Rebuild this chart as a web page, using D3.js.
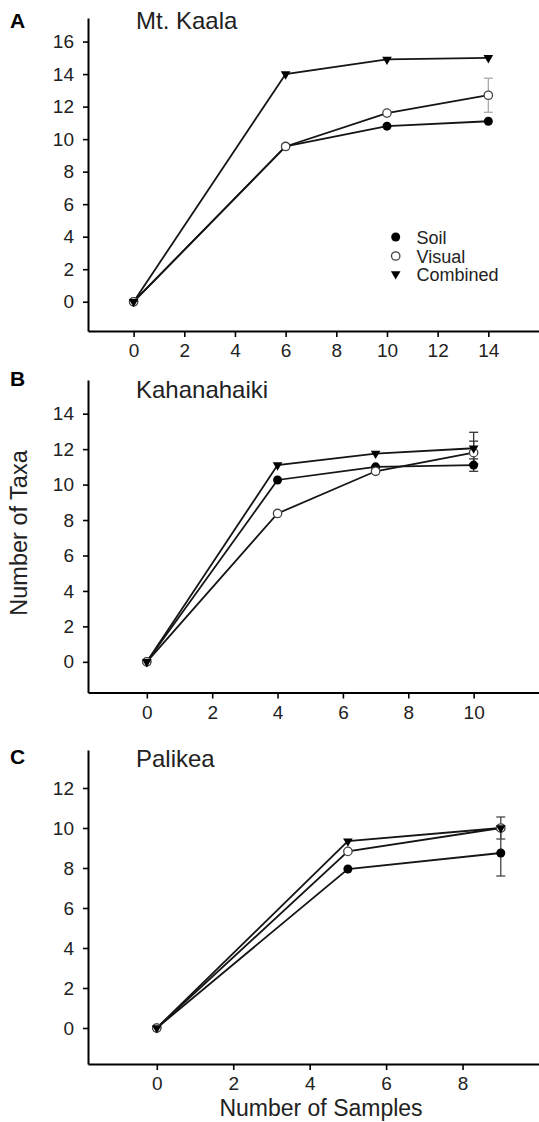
<!DOCTYPE html>
<html>
<head>
<meta charset="utf-8">
<script src="https://cdn.jsdelivr.net/npm/d3@7"></script>
<style>
  body { margin: 0; background: #fff; }
  svg { display: block; font-family: "Liberation Sans", Arial, sans-serif; }
</style>
</head>
<body>
<svg id="chart" width="539" height="1122"></svg>
<script>
// series names and panel data
const seriesNames = ["Soil", "Visual", "Combined"];

const kaalaSamples = [0, 6, 10, 14];
const kaalaSoil = [0, 9.55, 10.8, 11.1];
const kaalaVisual = [0, 9.55, 11.6, 12.7];
const kaalaCombined = [0, 14.0, 14.9, 15.0];
const kaalaVisualErr = [null, null, null, 1.05];

const kahaSamples = [0, 4, 7, 10];
const kahaSoil = [0, 10.26, 11.0, 11.1];
const kahaVisual = [0, 8.37, 10.75, 11.8];
const kahaCombined = [0, 11.1, 11.75, 12.05];
const kahaSoilErr = [null, null, null, 0.35];
const kahaVisualErr = [null, null, null, 0.65];
const kahaCombinedErr = [null, null, null, 0.9];

const palSamples = [0, 5, 9];
const palSoil = [0, 7.95, 8.75];
const palVisual = [0, 8.83, 10.0];
const palCombined = [0, 9.34, 10.0];
const palSoilErr = [null, null, 1.15];
const palVisualErr = [null, null, 0.55];

const kaalaXTicks = [0, 2, 4, 6, 8, 10, 12, 14];
const kaalaYTicks = [0, 2, 4, 6, 8, 10, 12, 14, 16];
const kahaXTicks = [0, 2, 4, 6, 8, 10];
const kahaYTicks = [0, 2, 4, 6, 8, 10, 12, 14];
const palXTicks = [0, 2, 4, 6, 8];
const palYTicks = [0, 2, 4, 6, 8, 10, 12];

let svg = d3.select("#chart");

let panels = [
    {
        letter: "A", title: "Mt. Kaala",
        x: kaalaSamples,
        series: [kaalaSoil, kaalaVisual, kaalaCombined],
        errs: [null, kaalaVisualErr, null],
        errColor: "#aaa",
        xDomain: [-1.8, 16], yDomain: [-1.8, 17.45],
        top: 18, bottom: 331,
        xTicks: kaalaXTicks, yTicks: kaalaYTicks,
        letterY: 28, titleY: 29,
        legend: true
    },
    {
        letter: "B", title: "Kahanahaiki",
        x: kahaSamples,
        series: [kahaSoil, kahaVisual, kahaCombined],
        errs: [kahaSoilErr, kahaVisualErr, kahaCombinedErr],
        errColor: "#333",
        xDomain: [-1.8, 12], yDomain: [-1.73, 15.9],
        top: 380, bottom: 692.5,
        xTicks: kahaXTicks, yTicks: kahaYTicks,
        letterY: 385.5, titleY: 397.5
    },
    {
        letter: "C", title: "Palikea",
        x: palSamples,
        series: [palSoil, palVisual, palCombined],
        errs: [palSoilErr, palVisualErr, null],
        errColor: "#444",
        xDomain: [-1.8, 10], yDomain: [-1.8, 13.9],
        top: 750, bottom: 1064,
        xTicks: palXTicks, yTicks: palYTicks,
        letterY: 764, titleY: 767
    }
];

let left = 88, right = 539;

// markers for the three series
function drawMarker(g, kind, cx, cy) {
    if (kind == 0) {
        g.append("circle").attr("cx", cx).attr("cy", cy).attr("r", 4.5)
            .attr("fill", "#000");
    } else if (kind == 1) {
        g.append("circle").attr("cx", cx).attr("cy", cy).attr("r", 4.2)
            .attr("fill", "#fff").attr("stroke", "#444").attr("stroke-width", 1.3);
    } else {
        g.append("path")
            .attr("d", d3.symbol().type(d3.symbolTriangle).size(40))
            .attr("transform", "translate(" + cx + "," + cy + ") rotate(180)")
            .attr("fill", "#000");
    }
}

panels.forEach(function(p) {
    let g = svg.append("g");

    let x = d3.scaleLinear().domain(p.xDomain).range([left, right]);
    let y = d3.scaleLinear().domain(p.yDomain).range([p.bottom, p.top]);

    // axes
    let xAxis = g.append("g")
        .attr("transform", "translate(0," + p.bottom + ")")
        .call(d3.axisBottom(x).tickValues(p.xTicks).tickSize(6).tickSizeOuter(0).tickPadding(7));
    let yAxis = g.append("g")
        .attr("transform", "translate(" + left + ",0)")
        .call(d3.axisLeft(y).tickValues(p.yTicks).tickSize(5).tickSizeOuter(0).tickPadding(9));
    [xAxis, yAxis].forEach(function(a) {
        a.attr("font-size", 19).attr("font-family", "Liberation Sans, Arial, sans-serif");
        a.select(".domain").attr("stroke", "#000").attr("stroke-width", 2);
        a.selectAll(".tick line").attr("stroke", "#000").attr("stroke-width", 1.6);
        a.selectAll(".tick text").attr("fill", "#222");
    });

    // lines
    let line = d3.line()
        .x(function(d) { return x(d[0]); })
        .y(function(d) { return y(d[1]); });
    p.series.forEach(function(s) {
        g.append("path")
            .datum(p.x.map(function(v, i) { return [v, s[i]]; }))
            .attr("d", line)
            .attr("fill", "none")
            .attr("stroke", "#151515")
            .attr("stroke-width", 1.8);
    });

    // error bars
    p.errs.forEach(function(e, si) {
        if (!e) return;
        e.forEach(function(err, i) {
            if (err == null) return;
            let cx = x(p.x[i]), v = p.series[si][i];
            let y1 = y(v - err), y2 = y(v + err);
            g.append("line").attr("x1", cx).attr("x2", cx).attr("y1", y1).attr("y2", y2)
                .attr("stroke", p.errColor).attr("stroke-width", 1.3);
            [y1, y2].forEach(function(yy) {
                g.append("line").attr("x1", cx - 4.5).attr("x2", cx + 4.5).attr("y1", yy).attr("y2", yy)
                    .attr("stroke", p.errColor).attr("stroke-width", 1.3);
            });
        });
    });

    // markers
    p.series.forEach(function(s, si) {
        s.forEach(function(v, i) {
            drawMarker(g, si, x(p.x[i]), y(v));
        });
    });

    // panel letter and site name
    g.append("text").attr("x", 10).attr("y", p.letterY)
        .attr("font-size", 21).attr("font-weight", "bold").text(p.letter);
    g.append("text").attr("x", 136).attr("y", p.titleY)
        .attr("font-size", 24).attr("fill", "#222").text(p.title);

    if (p.legend) {
        let lg = g.append("g");
        let rows = [237, 256, 274];
        seriesNames.forEach(function(name, i) {
            drawMarker(lg, i, 395.7, rows[i]);
            lg.append("text").attr("x", 416.5).attr("y", rows[i] + 7)
                .attr("font-size", 18).attr("fill", "#222").text(name);
        });
    }
});

// axis titles
svg.append("text")
    .attr("transform", "translate(27,533) rotate(-90)")
    .attr("text-anchor", "middle")
    .attr("font-size", 23.5).attr("fill", "#222")
    .text("Number of Taxa");

svg.append("text")
    .attr("x", 321).attr("y", 1116)
    .attr("text-anchor", "middle")
    .attr("font-size", 23).attr("fill", "#222")
    .text("Number of Samples");
</script>
</body>
</html>
